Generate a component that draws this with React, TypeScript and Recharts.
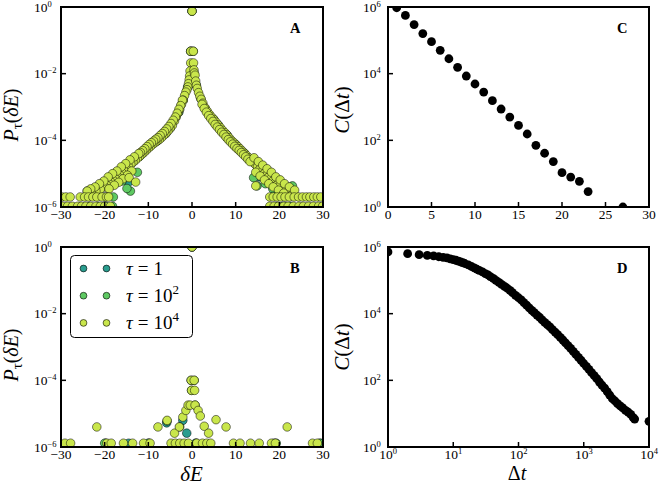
import React from 'react';
import { ScatterChart, Scatter, XAxis, YAxis, Legend } from 'recharts';

const FONT = '"Liberation Serif", "Times New Roman", Times, "DejaVu Serif", serif';

const SERIES = [
  { key: 'tau1', base: '1', exp: '', color: '#2a9d8f' },
  { key: 'tau100', base: '10', exp: '2', color: '#5ec962' },
  { key: 'tau10000', base: '10', exp: '4', color: '#c9e64b' },
];

const ENERGY_TICKS = [-30, -20, -10, 0, 10, 20, 30];
const PROB_TICKS = [1e-6, 1e-4, 1e-2, 1];
const LAG_TICKS = [0, 5, 10, 15, 20, 25, 30];
const COUNT_TICKS = [1, 1e2, 1e4, 1e6];
const LOG_LAG_TICKS = [1, 10, 100, 1000, 10000];

// panel A: P_tau(dE), three lags
const A_TAU_1: [number, number][] = [
  [0, 0.75], [-0.3, 0.047], [-1.0, 4e-3], [1.0, 4.5e-3], [-3.0, 7e-4], [3.0, 9e-4],
  [-6.0, 1.6e-4], [6.0, 2.9e-4], [-10, 6e-5], [10, 7.5e-5], [-16.8, 7e-6], [-19.1, 6.8e-6],
  [-21, 4.5e-6], [-24, 3e-6], [-14.5, 5.6e-6], [15.5, 8e-6], [19.5, 2.5e-6], [23.5, 2.2e-6],
  [-21.5, 1.05e-6], [-19.8, 1.05e-6], [19.3, 1.05e-6], [20.8, 1.05e-6], [22.6, 1.05e-6],
];

const A_TAU_100: [number, number][] = [
  [0, 0.75], [-0.3, 0.047], [0.3, 0.047], [-2, 1.6e-3], [2, 1.8e-3], [-5, 2.3e-4], [5, 4.2e-4],
  [-8, 9.5e-5], [8, 1.45e-4], [-12, 3.3e-5], [12, 4.1e-5], [-12.5, 1.1e-5], [-16, 6e-6],
  [-14.1, 3e-6], [-14.9, 3.6e-6], [-18, 2e-6], [-20, 2e-6], [-22.5, 2.5e-6], [14.1, 7.6e-6],
  [14.9, 4.3e-6], [16.8, 5e-6], [18.5, 3.5e-6], [23, 4.3e-6], [-23.5, 1.05e-6], [-18.2, 1.05e-6],
  [21.5, 1.05e-6],
];

const A_TAU_10000: [number, number][] = [
  [0, 0.75], [-0.3, 0.047], [0.3, 0.047], [-0.3, 0.021], [0.35, 0.021],
  [-0.45, 0.012], [-0.55, 8.5e-3], [-0.65, 6.5e-3], [-0.8, 5e-3], [-0.95, 4e-3], [-1.15, 3.3e-3],
  [-1.4, 2.8e-3], [-1.7, 2.2e-3], [-2.0, 1.6e-3], [-2.4, 1.2e-3], [-2.8, 8.5e-4], [-3.2, 6.5e-4],
  [-3.6, 5e-4], [-4.0, 3.8e-4], [-4.5, 2.8e-4], [-5.0, 2.3e-4], [-5.5, 1.9e-4], [-6.0, 1.6e-4],
  [-6.5, 1.4e-4], [-7.0, 1.2e-4], [-7.5, 1.05e-4], [-8.0, 9.5e-5], [-8.5, 8.5e-5], [-9.0, 7.6e-5],
  [-9.5, 6.6e-5], [-10, 5.8e-5], [-10.5, 5e-5], [-11, 4.3e-5], [-11.5, 3.8e-5], [-12, 3.3e-5],
  [-12.5, 2.9e-5], [-13, 2.5e-5], [-13.5, 2.2e-5], [-14, 1.9e-5], [-14.5, 1.6e-5], [-15, 1.4e-5],
  [-15.5, 1.2e-5], [-16, 1.05e-5], [-16.5, 9e-6], [-17, 8e-6], [-17.5, 7e-6], [-18, 6.2e-6],
  [-18.5, 5.5e-6], [-19, 5e-6], [-19.5, 4.5e-6], [-20, 4e-6], [-21, 3.4e-6], [-22, 3e-6],
  [-23, 2.6e-6],
  [-2.2, 1.6e-3], [-2.6, 1.1e-3], [-3.0, 8.5e-4], [-3.4, 6.5e-4], [-3.8, 5e-4], [-4.3, 4e-4],
  [-4.8, 3.2e-4], [-5.3, 2.6e-4], [-5.8, 2.2e-4], [-6.3, 1.85e-4], [-6.8, 1.6e-4], [-7.3, 1.4e-4],
  [-7.8, 1.2e-4], [-8.3, 1.08e-4], [-8.8, 9.5e-5], [-9.3, 8.5e-5], [-9.8, 7.5e-5], [-10.3, 6.5e-5],
  [-10.8, 5.6e-5], [-11.3, 4.9e-5], [-11.8, 4.3e-5],
  [-12.2, 4e-5], [-13.2, 3.2e-5], [-14.2, 2.6e-5], [-15.2, 2e-5], [-16.2, 1.6e-5], [-17.2, 1.2e-5],
  [-18.2, 1e-5], [-19.2, 8e-6], [-20.2, 6e-6], [-21.2, 5e-6], [-22.2, 4e-6], [-23.2, 3.5e-6],
  [-24, 3e-6], [-13.8, 1.2e-5], [-14.8, 9e-6], [-15.8, 7e-6], [-16.8, 5.5e-6], [-17.8, 4.5e-6],
  [-19, 3.5e-6], [-14.4, 7.6e-6], [-12.9, 5.6e-6],
  [0.45, 0.013], [0.55, 0.0105], [0.7, 9e-3], [0.85, 6e-3], [1.0, 4.5e-3], [1.2, 3.6e-3],
  [1.5, 2.7e-3], [1.8, 2.1e-3], [2.1, 1.7e-3], [2.5, 1.3e-3], [3.0, 9.5e-4], [3.5, 7.5e-4],
  [4.0, 6e-4], [4.5, 5e-4], [5.0, 4.2e-4], [5.5, 3.5e-4], [6.0, 2.9e-4], [6.5, 2.4e-4],
  [7.0, 2.0e-4], [7.5, 1.7e-4], [8.0, 1.45e-4], [8.5, 1.2e-4], [9.0, 1.0e-4], [9.5, 8.7e-5],
  [10, 7.5e-5], [10.5, 6.5e-5], [11, 5.6e-5], [11.5, 4.8e-5], [12, 4.1e-5], [12.5, 3.5e-5],
  [13, 3e-5], [13.5, 2.6e-5], [14, 2.2e-5], [14.5, 1.9e-5], [15, 1.6e-5], [15.5, 1.35e-5],
  [16, 1.15e-5], [16.5, 1e-5], [17, 8.8e-6], [17.5, 7.8e-6], [18, 6.9e-6], [18.5, 6e-6],
  [19, 5.3e-6], [19.5, 4.7e-6], [20, 4.2e-6], [21, 3.5e-6], [22, 2.8e-6], [23, 2.4e-6],
  [2.3, 1.2e-3], [2.8, 9e-4], [3.3, 7e-4], [3.8, 5.5e-4], [4.3, 4.5e-4], [4.8, 3.7e-4],
  [5.3, 3e-4], [5.8, 2.5e-4], [6.3, 2.1e-4], [6.8, 1.75e-4], [7.3, 1.5e-4], [7.8, 1.25e-4],
  [8.3, 1.05e-4], [8.8, 9e-5], [9.3, 7.7e-5], [9.8, 6.6e-5], [10.3, 5.7e-5], [10.8, 5e-5],
  [11.3, 4.3e-5], [11.8, 3.7e-5], [12.3, 3.2e-5], [12.8, 2.7e-5], [13.3, 2.3e-5],
  [14.2, 3e-5], [15.2, 2.3e-5], [16.2, 1.8e-5], [17.2, 1.4e-5], [18.2, 1.1e-5], [19.2, 8e-6],
  [20.2, 6.5e-6], [21.2, 5e-6], [22.3, 4e-6], [23.5, 3.2e-6], [14.6, 1.1e-5], [15.6, 8.5e-6],
  [16.6, 6.5e-6], [17.6, 5e-6], [18.6, 4e-6], [19.8, 3.2e-6], [21, 2.6e-6], [14.6, 4.3e-6],
  [-29.8, 2e-6], [-28.9, 2e-6], [-27.9, 2e-6], [-25.6, 2e-6], [-24.6, 2e-6], [-23.7, 2e-6],
  [-22.7, 2e-6], [-21.8, 2e-6], [-20.6, 2e-6], [-19.6, 2e-6], [-19.1, 2e-6],
  [17.8, 2e-6], [18.6, 2e-6], [19.5, 2e-6], [20.4, 2e-6], [21.3, 2e-6], [22.3, 2e-6],
  [23.4, 2e-6], [24.4, 2e-6], [25.3, 2e-6], [26.2, 2e-6], [27, 2e-6], [27.9, 2e-6],
  [28.7, 2e-6], [29.5, 2e-6],
  [-29.6, 1.05e-6], [-28.5, 1.05e-6], [-27.4, 1.05e-6], [-26.2, 1.05e-6], [-25.3, 1.05e-6],
  [-24.3, 1.05e-6], [-23.2, 1.05e-6], [-22, 1.05e-6], [-21, 1.05e-6], [-20, 1.05e-6],
  [-18.7, 1.05e-6], [17.8, 1.05e-6], [18.8, 1.05e-6], [19.8, 1.05e-6], [21, 1.05e-6],
  [22, 1.05e-6], [23.2, 1.05e-6], [24.5, 1.05e-6], [25.5, 1.05e-6], [26.7, 1.05e-6],
  [27.8, 1.05e-6], [29, 1.05e-6], [29.9, 1.05e-6],
];

// panel B: same, other system
const B_TAU_1: [number, number][] = [
  [0, 1], [-0.2, 1e-4], [-5.8, 5.3e-6], [-2.1, 6.3e-6], [-1.2, 2.6e-6],
  [-19.8, 1.3e-6], [-14.5, 1.3e-6], [-9.9, 1.3e-6], [0.8, 1.3e-6], [18.8, 1.3e-6], [29.5, 1.3e-6],
];

const B_TAU_100: [number, number][] = [
  [0, 1], [0.5, 1e-4], [-0.1, 5e-5], [0.7, 1.8e-5], [-5.7, 6e-6], [-2.8, 4e-6],
  [-20, 1.3e-6], [-10, 1.3e-6], [1.0, 1.3e-6], [19.3, 1.3e-6], [29.2, 1.3e-6],
];

const B_TAU_10000: [number, number][] = [
  [0, 1], [-0.2, 1e-4], [0.5, 1e-4], [-0.1, 5e-5], [0.6, 5e-5],
  [-21.8, 4e-6], [-7.8, 4e-6], [-5.7, 6.3e-6], [-4.0, 2.6e-6], [-2.9, 4e-6], [-2.1, 7.9e-6],
  [-1.4, 1.25e-5], [-0.9, 1.8e-5], [-0.4, 1.8e-5], [0.7, 1.8e-5], [1.4, 1.25e-5], [1.9, 8.5e-6],
  [2.8, 4.2e-6], [3.8, 2.6e-6], [5.5, 6.6e-6], [7.8, 4e-6], [21.8, 4e-6],
  [-29.1, 1.3e-6], [-27.8, 1.3e-6], [-19.5, 1.3e-6], [-18.5, 1.3e-6], [-15.7, 1.3e-6],
  [-13.6, 1.3e-6], [-11.1, 1.3e-6], [-9.6, 1.3e-6], [-4.8, 1.3e-6], [-3.8, 1.3e-6],
  [-2.8, 1.3e-6], [-1.8, 1.3e-6], [-0.8, 1.3e-6], [1.1, 1.3e-6], [2.4, 1.3e-6], [3.4, 1.3e-6],
  [4.3, 1.3e-6], [9.5, 1.3e-6], [11, 1.3e-6], [13.4, 1.3e-6], [15.4, 1.3e-6], [18.2, 1.3e-6],
  [19.1, 1.3e-6], [27.6, 1.3e-6], [28.7, 1.3e-6],
];

// panel C: C(dt) vs dt, linear lag
const C_POINTS: [number, number][] = [
  [1, 9.5e5], [2, 5.6e5], [3, 2.97e5], [4, 1.6e5], [5, 9.1e4], [6, 5e4], [7, 2.8e4],
  [8, 1.55e4], [9, 8.5e3], [10, 4.9e3], [11, 2.8e3], [12, 1.55e3], [13, 870], [14, 500],
  [15, 280], [16, 155], [17, 71], [18, 41], [19, 23], [20, 10.7], [21, 7.9], [22, 5.9],
  [23, 2.9], [27, 1.0],
];

// panel D: C(dt) vs dt, log lag
const D_POINTS: [number, number][] = [
  [1, 7.1e5], [2, 6.3e5], [3, 5.9e5], [4, 5.6e5], [5, 5.4e5], [6, 5.1e5], [7, 4.9e5],
  [8, 4.7e5], [9, 4.4e5], [10, 4.2e5], [11, 4.0e5], [12, 3.75e5], [13, 3.55e5], [14, 3.4e5],
  [15, 3.2e5], [17, 2.9e5], [19, 2.6e5], [21, 2.35e5], [23, 2.15e5], [25, 2.0e5], [28, 1.8e5],
  [31, 1.6e5], [34, 1.45e5], [37, 1.3e5], [41, 1.15e5], [45, 1.0e5], [50, 8.7e4], [55, 7.6e4],
  [61, 6.6e4], [67, 5.8e4], [74, 5.0e4], [81, 4.3e4], [90, 3.55e4], [100, 3.0e4], [110, 2.6e4],
  [121, 2.15e4], [133, 1.8e4], [146, 1.5e4], [160, 1.26e4], [175, 1.07e4], [192, 9.1e3],
  [210, 7.8e3], [230, 6.5e3], [252, 5.5e3], [276, 4.7e3], [303, 4.0e3], [332, 3.3e3],
  [364, 2.8e3], [399, 2.35e3], [437, 1.95e3], [480, 1.62e3], [525, 1.32e3], [575, 1.1e3],
  [630, 910], [690, 740], [757, 600], [830, 490], [910, 400], [1000, 320], [1096, 263],
  [1200, 214], [1320, 170], [1450, 138], [1585, 112], [1740, 89], [1900, 72], [2090, 58],
  [2290, 46], [2500, 36], [2750, 28], [3010, 24], [3300, 20], [3620, 17], [3960, 15],
  [4360, 12.6], [4790, 11.2], [5250, 9.5], [5750, 7.6], [6030, 6.9], [10000, 5.9],
];

const toPoints = (rows: [number, number][]) => rows.map(([x, y]) => ({ x, y }));

const fmtLinear = (v: number) => (v < 0 ? `\u2212${-v}` : `${v}`);
const fmtExp = (v: number) => {
  const e = Math.round(Math.log10(v));
  return e < 0 ? `\u2212${-e}` : `${e}`;
};

const textStyle = { fontFamily: FONT };

const LinearXTick = (props: any) => {
  const { x, y, payload } = props;
  return (
    <g>
      <line x1={x} x2={x} y1={y} y2={y - 5} stroke="#000" strokeWidth={1.5} />
      <text x={x} y={y + 12} textAnchor="middle" style={textStyle} fontSize={13.5} fill="#000">
        {fmtLinear(payload.value)}
      </text>
    </g>
  );
};

const LogXTick = (props: any) => {
  const { x, y, payload } = props;
  return (
    <g>
      <line x1={x} x2={x} y1={y} y2={y - 5} stroke="#000" strokeWidth={1.5} />
      <text x={x} y={y + 12} textAnchor="middle" style={textStyle} fontSize={13.5} fill="#000">
        10<tspan dy={-5} fontSize={8.5}>{fmtExp(payload.value)}</tspan>
      </text>
    </g>
  );
};

const logYTick = (offset: number) => (props: any) => {
  const { x, y, payload } = props;
  return (
    <g>
      <line x1={x} x2={x + 5} y1={y} y2={y} stroke="#000" strokeWidth={1.5} />
      <text x={x - offset} y={y + 4.5} style={textStyle} fontSize={13.5} fill="#000">
        10<tspan dy={-5} fontSize={8.5}>{fmtExp(payload.value)}</tspan>
      </text>
    </g>
  );
};

const dot = (fill: string, r: number, sw: number) => (props: any) =>
  props.cx == null ? <g /> : (
    <circle cx={props.cx} cy={props.cy} r={r} fill={fill} stroke="#000" strokeWidth={sw} />
  );

const TauLegend = () => (
  <svg width={124} height={84} style={{ display: 'block' }}>
    <rect x={0.5} y={0.5} width={122} height={82} rx={4} fill="#fff" stroke="#000" strokeWidth={1} />
    {SERIES.map((s, i) => {
      const cy = 13.5 + i * 27.2;
      return (
        <g key={s.key}>
          <circle cx={13.5} cy={cy} r={3.4} fill={s.color} stroke="#000" strokeWidth={0.6} />
          <circle cx={36.5} cy={cy} r={3.4} fill={s.color} stroke="#000" strokeWidth={0.6} />
          <text x={56} y={cy + 6.5} style={textStyle} fontSize={19} fill="#000">
            <tspan fontStyle="italic">τ</tspan>
            <tspan dx={5}>=</tspan>
            <tspan dx={5}>{s.base}</tspan>
            {s.exp && <tspan dy={-8} fontSize={13}>{s.exp}</tspan>}
          </text>
        </g>
      );
    })}
  </svg>
);

const EnergyPanel = ({ top, height, series, legend }: any) => (
  <div style={{ position: 'absolute', left: 0, top, width: 330, height }}>
    <ScatterChart width={330} height={height} margin={{ top: 7, right: 7, bottom: 0, left: 0 }}>
      <XAxis
        dataKey="x"
        type="number"
        domain={[-30, 30]}
        ticks={ENERGY_TICKS}
        interval={0}
        allowDataOverflow
        axisLine={false}
        tickLine={false}
        tickSize={0}
        tickMargin={0}
        height={height - 207}
        tick={LinearXTick}
      />
      <YAxis
        dataKey="y"
        type="number"
        scale="log"
        domain={[1e-6, 1]}
        ticks={PROB_TICKS}
        interval={0}
        allowDataOverflow
        axisLine={false}
        tickLine={false}
        tickSize={0}
        tickMargin={0}
        width={61}
        tick={logYTick(27)}
      />
      {series.map((rows: [number, number][], i: number) => (
        <Scatter
          key={SERIES[i].key}
          name={SERIES[i].key}
          data={toPoints(rows)}
          isAnimationActive={false}
          shape={dot(SERIES[i].color, 4.3, 0.5)}
        />
      ))}
      {legend && (
        <Legend
          layout="vertical"
          align="center"
          verticalAlign="middle"
          wrapperStyle={{ left: 70, top: 15, width: 124, height: 84 }}
          content={() => <TauLegend />}
        />
      )}
    </ScatterChart>
  </div>
);

const CorrelationPanel = ({ top, height, rows, logX }: any) => (
  <div style={{ position: 'absolute', left: 330, top, width: 329, height }}>
    <ScatterChart width={329} height={height} margin={{ top: 7, right: 10, bottom: 0, left: 0 }}>
      <XAxis
        dataKey="x"
        type="number"
        scale={logX ? 'log' : 'linear'}
        domain={logX ? [1, 1e4] : [0, 30]}
        ticks={logX ? LOG_LAG_TICKS : LAG_TICKS}
        interval={0}
        allowDataOverflow
        axisLine={false}
        tickLine={false}
        tickSize={0}
        tickMargin={0}
        height={height - 207}
        tick={logX ? LogXTick : LinearXTick}
      />
      <YAxis
        dataKey="y"
        type="number"
        scale="log"
        domain={[1, 1e6]}
        ticks={COUNT_TICKS}
        interval={0}
        allowDataOverflow
        axisLine={false}
        tickLine={false}
        tickSize={0}
        tickMargin={0}
        width={58}
        tick={logYTick(25)}
      />
      <Scatter data={toPoints(rows)} isAnimationActive={false} shape={dot('#000', 4.4, 0)} />
    </ScatterChart>
  </div>
);

const FRAMES = [
  [61, 7, 262, 200],
  [61, 247, 262, 200],
  [388, 7, 261, 200],
  [388, 247, 261, 200],
];

const Overlay = () => (
  <svg width={659} height={485} style={{ position: 'absolute', left: 0, top: 0, pointerEvents: 'none' }}>
    {FRAMES.map(([x, y, w, h], i) => (
      <rect key={i} x={x} y={y} width={w} height={h} fill="none" stroke="#000" strokeWidth={2} />
    ))}
    {[115, 355].map((cy) => (
      <text key={cy} transform={`translate(18,${cy}) rotate(-90)`} textAnchor="middle" style={textStyle} fontSize={20} fill="#000">
        <tspan fontStyle="italic">P</tspan>
        <tspan fontSize={15} dy={4}>τ</tspan>
        <tspan dy={-4}>(</tspan>
        <tspan fontStyle="italic">δE</tspan>
        <tspan>)</tspan>
      </text>
    ))}
    {[110, 347].map((cy) => (
      <text key={cy} transform={`translate(349,${cy}) rotate(-90)`} textAnchor="middle" style={textStyle} fontSize={21} fill="#000">
        <tspan fontStyle="italic">C</tspan>
        <tspan>(Δ</tspan>
        <tspan fontStyle="italic">t</tspan>
        <tspan>)</tspan>
      </text>
    ))}
    <text x={191.5} y={481} textAnchor="middle" style={textStyle} fontSize={21} fontStyle="italic" fill="#000">δE</text>
    <text x={517} y={480} textAnchor="middle" style={textStyle} fontSize={20} fill="#000">
      Δ<tspan fontStyle="italic">t</tspan>
    </text>
    <text x={290} y={33} style={textStyle} fontSize={14.5} fontWeight="bold" fill="#000">A</text>
    <text x={290} y={273} style={textStyle} fontSize={14.5} fontWeight="bold" fill="#000">B</text>
    <text x={617} y={33} style={textStyle} fontSize={14.5} fontWeight="bold" fill="#000">C</text>
    <text x={617} y={273} style={textStyle} fontSize={14.5} fontWeight="bold" fill="#000">D</text>
  </svg>
);

export default function App() {
  return (
    <div style={{ position: 'absolute', left: 0, top: 0, width: 659, height: 485, background: '#fff', overflow: 'hidden', fontFamily: FONT }}>
      <EnergyPanel top={0} height={240} series={[A_TAU_1, A_TAU_100, A_TAU_10000]} />
      <EnergyPanel top={240} height={245} series={[B_TAU_1, B_TAU_100, B_TAU_10000]} legend />
      <CorrelationPanel top={0} height={240} rows={C_POINTS} />
      <CorrelationPanel top={240} height={245} rows={D_POINTS} logX />
      <Overlay />
    </div>
  );
}
